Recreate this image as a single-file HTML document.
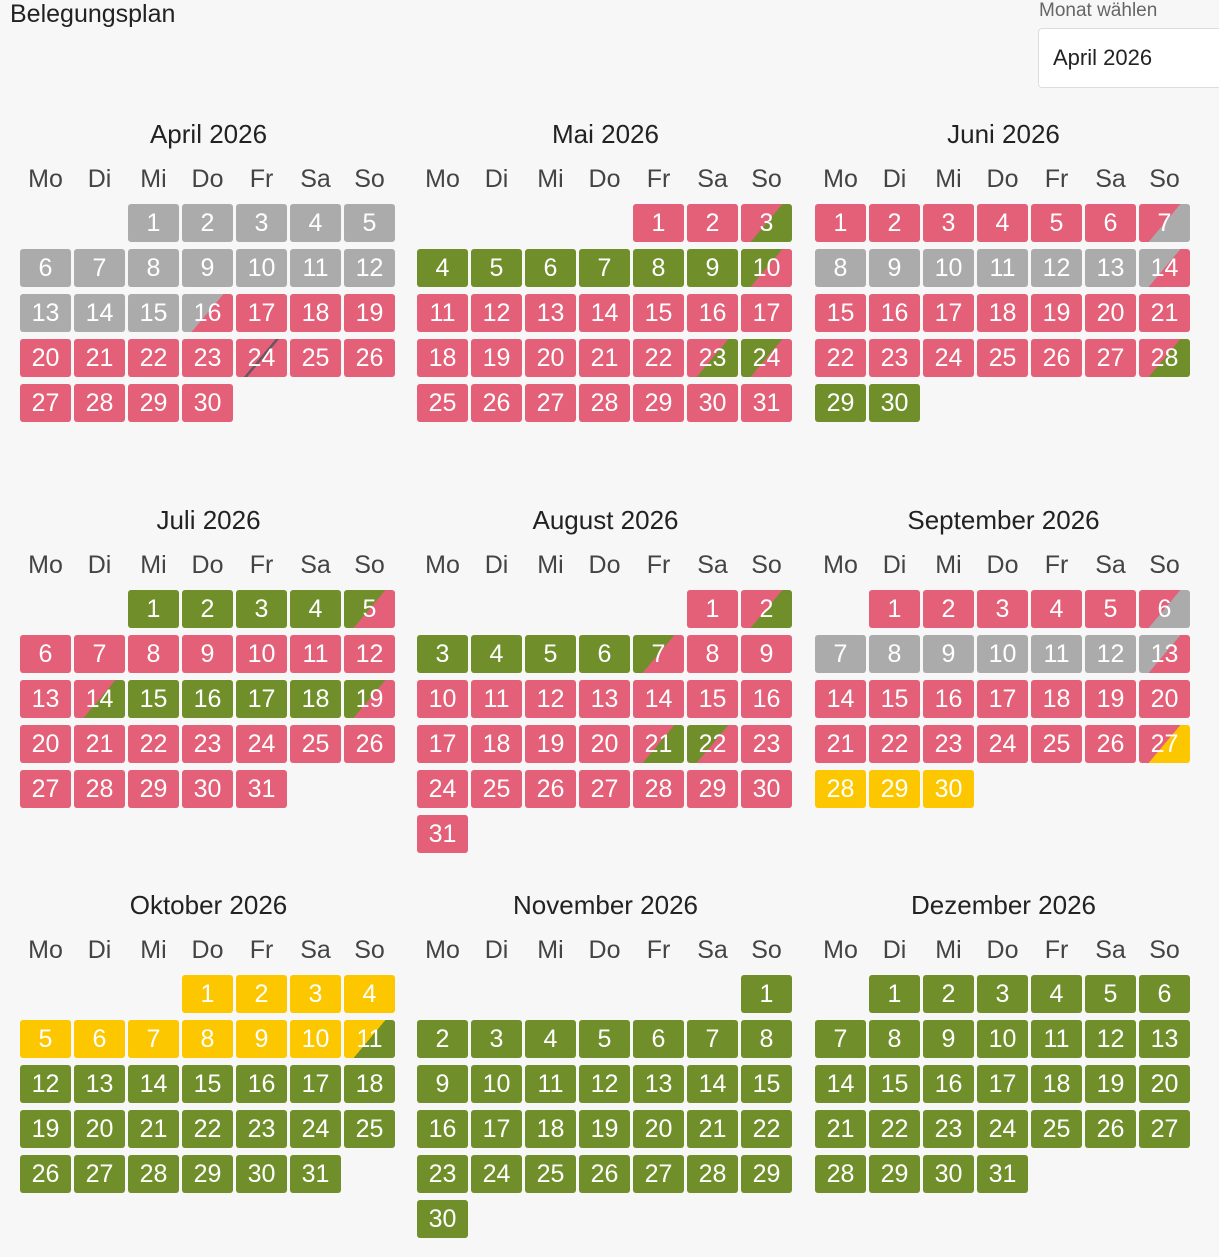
<!DOCTYPE html>
<html><head><meta charset="utf-8">
<style>
body{margin:0;width:1219px;height:1257px;background:#f7f7f7;font-family:"Liberation Sans",sans-serif;position:relative;overflow:hidden;}
.t{position:absolute;white-space:nowrap;}
.c{position:absolute;width:51px;height:38px;border-radius:3px;color:#fff;font-size:25px;line-height:38px;text-align:center;font-weight:normal;overflow:hidden;}
.h{position:absolute;width:51px;text-align:center;font-size:25px;color:#444;}
.m{position:absolute;width:375px;text-align:center;font-size:26px;color:#222;}
</style></head><body>
<div class="t" style="left:10px;top:0px;font-size:25px;color:#222;">Belegungsplan</div>
<div class="t" style="left:1039px;top:0px;font-size:19px;color:#666;">Monat wählen</div>
<div style="position:absolute;left:1038px;top:28px;width:200px;height:58px;background:#fff;border:1px solid #ddd;border-radius:4px;"></div>
<div class="t" style="left:1053px;top:45px;font-size:22px;color:#222;">April 2026</div>
<div id="root"></div>
<script>
var C={r:"#e45f78",g:"#708f2a",y:"#fdc700",x:"#ababab"};
function run(arr){var o={};arr.forEach(function(a){for(var d=a[0];d<=a[1];d++)o[d]=a[2];});return o;}
var months=[
["April 2026",2,30,run([[1,15,"x"],[16,16,"x/r"],[17,31,"r"],[24,24,"line"]])],
["Mai 2026",4,31,run([[1,2,"r"],[3,3,"r/g"],[4,9,"g"],[10,10,"g/r"],[11,22,"r"],[23,23,"r/g"],[24,24,"g/r"],[25,31,"r"]])],
["Juni 2026",0,30,run([[1,6,"r"],[7,7,"r/x"],[8,13,"x"],[14,14,"x/r"],[15,27,"r"],[28,28,"r/g"],[29,30,"g"]])],
["Juli 2026",2,31,run([[1,4,"g"],[5,5,"g/r"],[6,13,"r"],[14,14,"r/g"],[15,18,"g"],[19,19,"g/r"],[20,31,"r"]])],
["August 2026",5,31,run([[1,1,"r"],[2,2,"r/g"],[3,6,"g"],[7,7,"g/r"],[8,20,"r"],[21,21,"r/g"],[22,22,"g/r"],[23,31,"r"]])],
["September 2026",1,30,run([[1,5,"r"],[6,6,"r/x"],[7,12,"x"],[13,13,"x/r"],[14,26,"r"],[27,27,"r/y"],[28,30,"y"]])],
["Oktober 2026",3,31,run([[1,10,"y"],[11,11,"y/g"],[12,31,"g"]])],
["November 2026",6,30,run([[1,30,"g"]])],
["Dezember 2026",1,31,run([[1,31,"g"]])]
];
var X=[20,417,815],Y=[204,590,975],days=["Mo","Di","Mi","Do","Fr","Sa","So"];
var h="";
months.forEach(function(m,i){
 var ox=X[i%3],oy=Y[Math.floor(i/3)];
 h+='<div class="m" style="left:'+(ox+1)+'px;top:'+(oy-85)+'px">'+m[0]+'</div>';
 days.forEach(function(d,j){h+='<div class="h" style="left:'+(ox+j*54)+'px;top:'+(oy-39)+'px">'+d+'</div>';});
 for(var d=1;d<=m[2];d++){
  var p=m[1]+d-1,col=p%7,row=Math.floor(p/7),s=m[3][d],bg;
  if(s=="line")bg="linear-gradient(130deg,"+C.r+" 48%,#6a5560 48%,#6a5560 52%,"+C.r+" 52%)";
  else if(s.indexOf("/")>0){var q=s.split("/");bg="linear-gradient(130deg,"+C[q[0]]+" 50%,"+C[q[1]]+" 50%)";}
  else bg=C[s];
  h+='<div class="c" style="left:'+(ox+col*54)+'px;top:'+(oy+row*45)+'px;background:'+bg+'">'+d+'</div>';
 }
});
document.getElementById("root").innerHTML=h;
</script>
</body></html>
